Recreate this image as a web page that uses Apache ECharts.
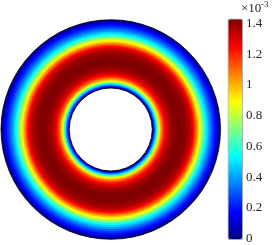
<!DOCTYPE html>
<html><head><meta charset="utf-8">
<script src="https://cdn.jsdelivr.net/npm/echarts@6/dist/echarts.min.js"></script>
<style>html,body{margin:0;padding:0;background:#fff}#c{width:273px;height:245px}</style>
</head><body><div id="c"></div>
<script>
// radial sample positions (r / R_outer) and field values (x1e-3)
const radii = [0.378, 0.387, 0.396, 0.405, 0.415, 0.424, 0.433, 0.442, 0.451, 0.460, 0.469, 0.478, 0.488, 0.497, 0.506, 0.520, 0.534, 0.548, 0.561, 0.584, 0.607, 0.630, 0.653, 0.676, 0.698, 0.712, 0.726, 0.740, 0.753, 0.767, 0.781, 0.795, 0.808, 0.822, 0.835, 0.849, 0.863, 0.881, 0.899, 0.917, 0.936, 0.954, 0.973, 0.986, 1.0];
const values = [0, 0.12, 0.25, 0.38, 0.52, 0.66, 0.79, 0.90, 0.98, 1.05, 1.11, 1.17, 1.22, 1.26, 1.29, 1.33, 1.36, 1.385, 1.40, 1.42, 1.43, 1.43, 1.425, 1.41, 1.39, 1.37, 1.34, 1.30, 1.25, 1.17, 1.08, 0.99, 0.90, 0.82, 0.73, 0.64, 0.55, 0.47, 0.39, 0.32, 0.25, 0.19, 0.11, 0.05, 0];
const cbarMin = 0, cbarMax = 1.43, cbarStep = 0.2;
const jet = ['#000080', '#0000ff', '#0080ff', '#00ffff', '#80ff80', '#ffff00', '#ff8000', '#ff0000', '#800000'];

// each sample fills a disk up to the midpoint toward the next sample; drawn outermost first
const ringData = radii.map((r, i) => {
  const hi = i === radii.length - 1 ? r : (r + radii[i + 1]) / 2;
  return [hi, values[i], 0];
}).reverse();
const boundaryData = [[radii[0], 0], [radii[radii.length - 1], 0]];

const chart = echarts.init(document.getElementById('c'), null, {renderer: 'canvas'});
const font = '"Liberation Serif", "DejaVu Serif", serif';

function pxRadius(api, cs, v) {
  const p = api.coord([v, 0]);
  return Math.hypot(p[0] - cs.cx, p[1] - cs.cy);
}

chart.setOption({
  animation: false,
  title: [
    {text: '×10', left: 241, top: 2, padding: 0,
      textStyle: {fontSize: 13, fontWeight: 'normal', fontFamily: font, color: '#262626'}},
    {text: '-3', left: 261, top: 0, padding: 0,
      textStyle: {fontSize: 9, fontWeight: 'normal', fontFamily: font, color: '#262626'}}
  ],
  polar: {center: [110.75, 129.5], radius: [0, 109.75]},
  radiusAxis: {type: 'value', min: 0, max: 1, show: false},
  angleAxis: {type: 'value', min: 0, max: 360, show: false},
  grid: {left: 228, top: 19, width: 14, height: 220},
  xAxis: {type: 'value', show: false, min: 0, max: 1},
  yAxis: {
    type: 'value', position: 'right', min: cbarMin, max: cbarMax, interval: cbarStep,
    axisLine: {show: false}, axisTick: {show: false}, splitLine: {show: false},
    axisLabel: {showMaxLabel: false, margin: 4, fontFamily: font, fontSize: 13, color: '#262626'}
  },
  visualMap: {
    type: 'continuous', seriesIndex: 0, dimension: 1, min: cbarMin, max: cbarMax,
    left: 228, top: 19, itemWidth: 14, itemHeight: 220, padding: 0,
    calculable: false, text: ['', ''], showLabel: false,
    borderColor: '#555', borderWidth: 0.6,
    inRange: {color: jet}
  },
  series: [
    {
      type: 'custom', coordinateSystem: 'polar', data: ringData,
      encode: {radius: 0, angle: 2},
      renderItem: function (params, api) {
        const cs = params.coordSys;
        const r = pxRadius(api, cs, api.value(0));
        const c = api.visual('color');
        return {type: 'circle', shape: {cx: cs.cx, cy: cs.cy, r: r},
          style: {fill: c}};
      }
    },
    {
      type: 'custom', coordinateSystem: 'polar', data: boundaryData, z: 3,
      encode: {radius: 0, angle: 1},
      renderItem: function (params, api) {
        const cs = params.coordSys;
        const r = pxRadius(api, cs, api.value(0));
        const inner = params.dataIndex === 0;
        return {type: 'circle', shape: {cx: cs.cx, cy: cs.cy, r: r},
          style: {fill: inner ? '#fff' : null, stroke: '#000', lineWidth: 0.8}};
      }
    }
  ]
});
</script></body></html>
